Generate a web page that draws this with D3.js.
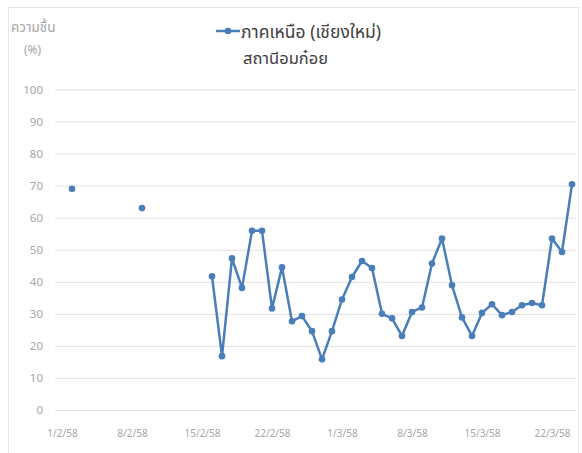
<!DOCTYPE html>
<html>
<head>
<meta charset="utf-8">
<script src="https://d3js.org/d3.v7.min.js"></script>
<style>
  body {margin:0; background:#fff;}
  svg text {font-family:"Noto Sans Thai","Noto Sans","DejaVu Sans",sans-serif;}
  .tick text {fill:#a6a6a6; font-size:11.5px;}
</style>
</head>
<body>
<svg id="chart"></svg>
<script>
// day index 0 = 1/2/58 ... 50 = 23/3/58
const dayIndex = d3.range(51);
const humidity = [
  69, null, null, null, null, null, null,
  63, null, null, null, null, null, null,
  41.7, 16.8, 47.3, 38.1, 55.9, 55.9, 31.7,
  44.5, 27.7, 29.3, 24.6, 15.8, 24.6, 34.5,
  41.5, 46.5, 44.3, 30.0, 28.6, 23.1, 30.6,
  32.0, 45.7, 53.5, 38.9, 28.9, 23.1, 30.3,
  33.0, 29.6, 30.6, 32.7, 33.4, 32.7, 53.5,
  49.3, 70.4
];
const tickDays = [0, 7, 14, 21, 28, 35, 42, 49];
const tickLabels = ['1/2/58','8/2/58','15/2/58','22/2/58','1/3/58','8/3/58','15/3/58','22/3/58'];
const yTicks = [0,10,20,30,40,50,60,70,80,90,100];

const W = 582, H = 453;
const svg = d3.select('#chart').attr('width', W).attr('height', H);
const blue = '#4a7ebb';

svg.append('rect').attr('x', 8.5).attr('y', 7.5).attr('width', 570).attr('height', 460)
   .attr('fill', 'none').attr('stroke', '#e6e6e6');

const x = d3.scaleLinear().domain([0, 50]).range([72, 572]);
const y = d3.scaleLinear().domain([0, 100]).range([410, 89.5]);
const plotL = 55, plotR = 576;

// y grid + labels
const gy = svg.append('g').attr('transform', `translate(${plotL},0)`)
  .call(d3.axisLeft(y).tickValues(yTicks).tickSize(-(plotR - plotL)).tickPadding(12));
gy.select('.domain').remove();
gy.selectAll('.tick line').attr('stroke', '#e0e0e0');

// x labels
const gx = svg.append('g').attr('transform', `translate(-10,${410})`)
  .call(d3.axisBottom(x).tickValues(tickDays).tickFormat((d, i) => tickLabels[i]).tickSize(0).tickPadding(20));
gx.select('.domain').remove();
gx.selectAll('.tick text').style('font-size', '10px');

const pts = dayIndex.map(i => ({d: i, v: humidity[i]}));
const line = d3.line().defined(p => p.v !== null).x(p => x(p.d)).y(p => y(p.v));
svg.append('path').datum(pts).attr('d', line)
   .attr('fill', 'none').attr('stroke', blue).attr('stroke-width', 2.5).attr('stroke-linejoin', 'round');
svg.append('g').selectAll('circle').data(pts.filter(p => p.v !== null)).join('circle')
   .attr('cx', p => x(p.d)).attr('cy', p => y(p.v)).attr('r', 3.3).attr('fill', blue);

// axis title
svg.append('text').attr('x', 11).attr('y', 32).text('ความชื้น')
   .attr('fill', '#a6a6a6').style('font-size', '13.5px');
svg.append('text').attr('x', 24).attr('y', 54).text('(%)')
   .attr('fill', '#a6a6a6').style('font-size', '12px');

// legend / title
svg.append('line').attr('x1', 216).attr('x2', 240).attr('y1', 31).attr('y2', 31)
   .attr('stroke', blue).attr('stroke-width', 2.5);
svg.append('circle').attr('cx', 228).attr('cy', 31).attr('r', 3.3).attr('fill', blue);
svg.append('text').attr('x', 241).attr('y', 38).text('ภาคเหนือ (เชียงใหม่)')
   .attr('fill', '#404040').style('font-size', '17.5px');
svg.append('text').attr('x', 243).attr('y', 64).text('สถานีอมก๋อย')
   .attr('fill', '#404040').style('font-size', '16.5px');
</script>
</body>
</html>
